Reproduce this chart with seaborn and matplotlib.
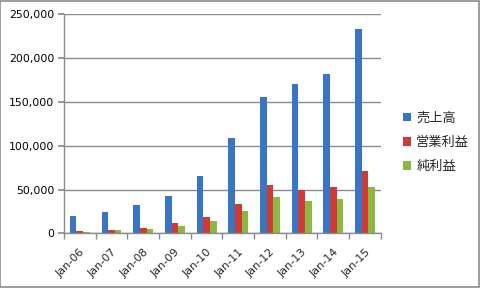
import matplotlib
matplotlib.use("Agg")
import matplotlib.pyplot as plt
import matplotlib.ticker as mticker
from matplotlib.patches import Rectangle
import numpy as np
import pandas as pd
import seaborn as sns

categories = ["Jan-06", "Jan-07", "Jan-08", "Jan-09", "Jan-10",
              "Jan-11", "Jan-12", "Jan-13", "Jan-14", "Jan-15"]
sales = [20000, 24300, 32300, 42600, 65500, 108600, 156000, 170600, 182400, 233500]
operating_profit = [3000, 4000, 6400, 11800, 18600, 33500, 55000, 49800, 52600, 71200]
net_profit = [1500, 4000, 5300, 8300, 14400, 25500, 41300, 36900, 39200, 52600]
series_names = ["売上高", "営業利益", "純利益"]
yticks = [0, 50000, 100000, 150000, 200000, 250000]

df = pd.DataFrame({
    "period": categories * 3,
    "value": sales + operating_profit + net_profit,
    "series": [series_names[0]] * 10 + [series_names[1]] * 10 + [series_names[2]] * 10,
})

sns.set_theme(style="white")
plt.rcParams["font.family"] = ["DejaVu Sans", "Noto Sans CJK JP"]

colors = ["#3A75C4", "#CE3B37", "#8DB83F"]

fig = plt.figure(figsize=(4.8, 2.88), dpi=100)
ax = fig.add_axes([0.1333, 0.19, 0.66, 0.76])

sns.barplot(data=df, x="period", y="value", hue="series", hue_order=series_names,
            palette=colors, width=0.63, ax=ax, legend=False, saturation=1,
            linewidth=0, edgecolor="none")

ax.set_xlim(-0.5, 9.5)
ax.set_ylim(0, 250000)
ax.set_yticks(yticks)
ax.yaxis.set_major_formatter(mticker.FuncFormatter(lambda v, p: f"{int(v):,}"))
ax.grid(axis="y", color="#8C8C8C", linewidth=1.0)
ax.set_axisbelow(True)
ax.set_xlabel("")
ax.set_ylabel("")

for s in ["top", "right"]:
    ax.spines[s].set_visible(False)
for s in ["left", "bottom"]:
    ax.spines[s].set_color("#8C8C8C")
    ax.spines[s].set_linewidth(1.0)

ax.tick_params(axis="y", which="major", left=True, length=4, color="#8C8C8C",
               labelsize=7.8, pad=3, labelcolor="black")
ax.set_xticks(np.arange(len(categories)))
ax.set_xticklabels(categories, rotation=45, ha="right", rotation_mode="anchor", fontsize=8)
ax.tick_params(axis="x", which="major", length=0, pad=10)
ax.set_xticks(np.arange(-0.5, len(categories) + 0.5, 1), minor=True)
ax.tick_params(axis="x", which="minor", bottom=True, length=4, color="#8C8C8C")

handles = [Rectangle((0, 0), 1, 1, facecolor=c, edgecolor="none") for c in colors]
fig.legend(handles, series_names, loc="center left", bbox_to_anchor=(0.815, 0.505),
           frameon=False, fontsize=9.5, handlelength=0.6, handleheight=0.6,
           handletextpad=0.4, labelspacing=0.85)

fig.patches.append(Rectangle((0.001, 0.002), 0.997, 0.995, transform=fig.transFigure,
                             fill=False, edgecolor="#8C8C8C", linewidth=1.2))

fig.savefig("out.png", dpi=100)
